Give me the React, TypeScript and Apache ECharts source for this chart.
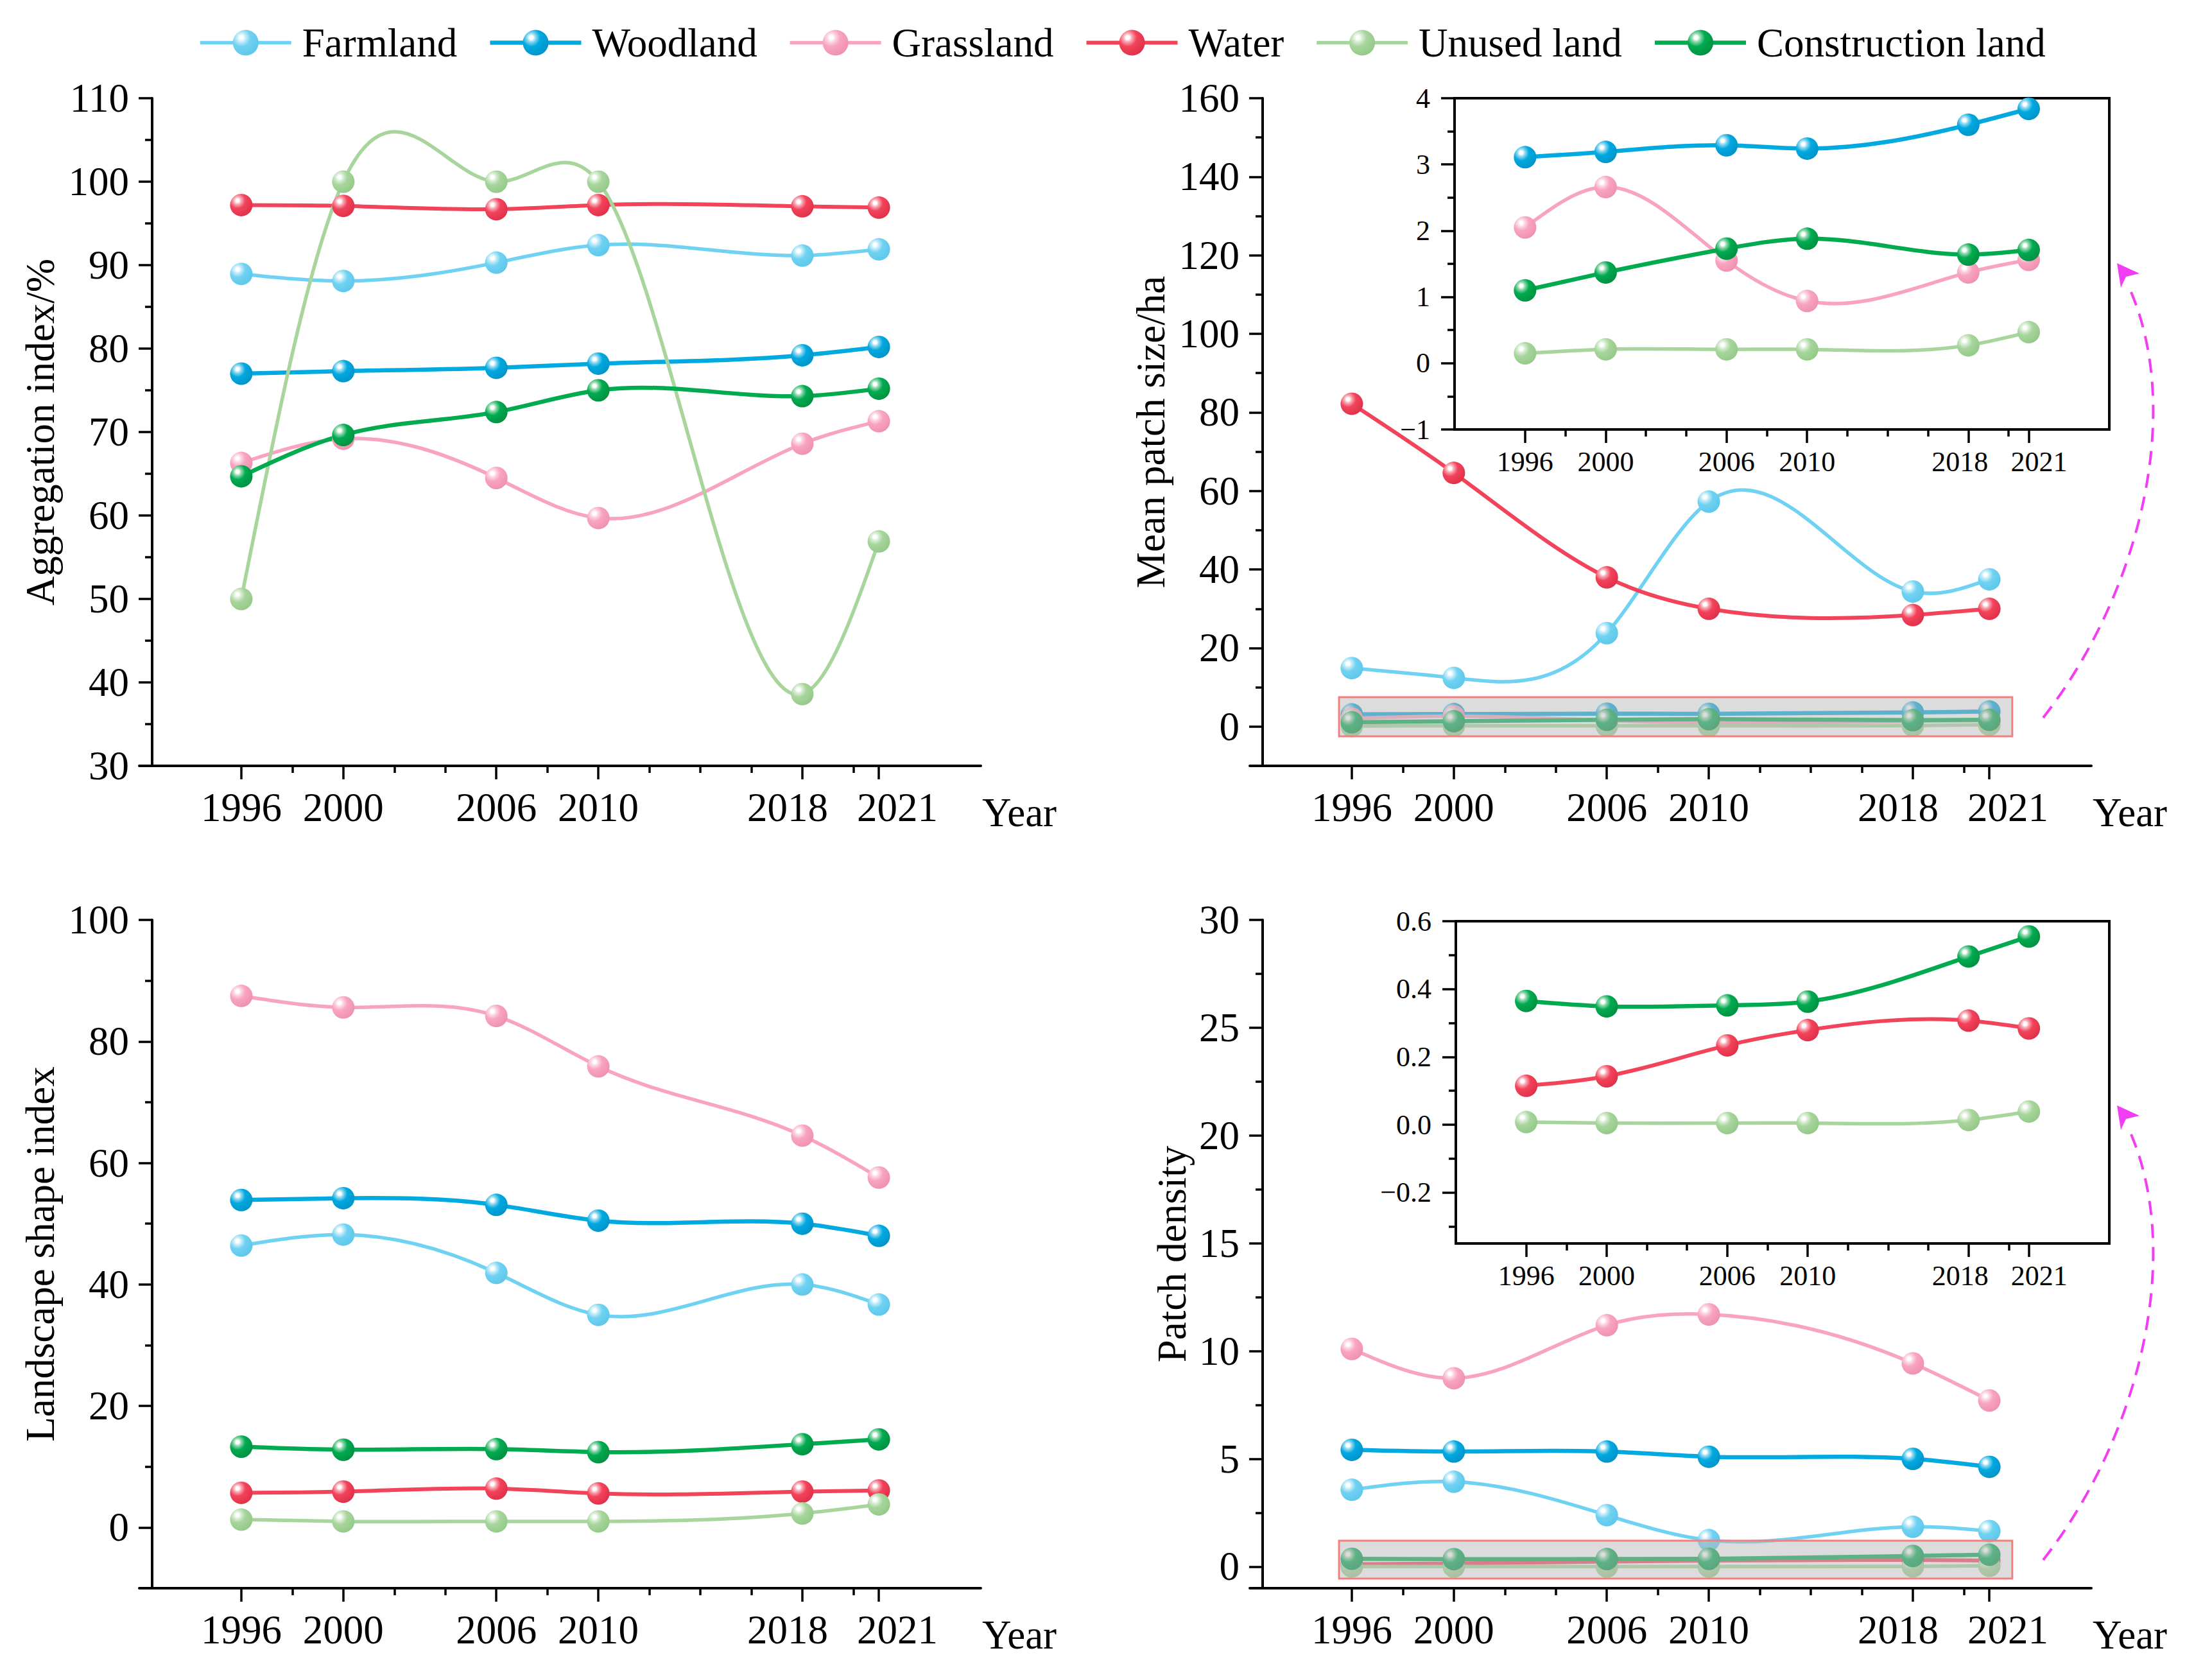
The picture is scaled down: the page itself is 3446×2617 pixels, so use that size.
import React, { useEffect, useRef } from 'react';
import * as echarts from 'echarts';

// ---------- data ----------
const YEARS = [1996, 2000, 2006, 2010, 2018, 2021];
const MINOR_YEARS = [1998, 2002, 2004, 2008, 2012, 2014, 2016, 2020];
const NAMES = ['Farmland', 'Woodland', 'Grassland', 'Water', 'Unused land', 'Construction land'];

// Aggregation index /%
const AI_FARMLAND = [88.95, 88.1, 90.3, 92.4, 91.15, 91.9];
const AI_WOODLAND = [77.0, 77.3, 77.7, 78.2, 79.2, 80.2];
const AI_GRASSLAND = [66.3, 69.2, 64.5, 59.7, 68.6, 71.3];
const AI_WATER = [97.2, 97.1, 96.7, 97.2, 97.05, 96.9];
const AI_UNUSED = [50.0, 100, 100, 100, 38.6, 56.9];
const AI_CONSTRUCTION = [64.7, 69.65, 72.4, 75.0, 74.3, 75.2];

// Mean patch size /ha
const MPS_FARMLAND = [14.9, 12.4, 23.8, 57.3, 34.4, 37.5];
const MPS_WOODLAND = [3.11, 3.19, 3.29, 3.24, 3.6, 3.84];
const MPS_GRASSLAND = [2.05, 2.66, 1.55, 0.94, 1.37, 1.56];
const MPS_WATER = [82.2, 64.6, 38.0, 30.0, 28.4, 30.0];
const MPS_UNUSED = [0.15, 0.21, 0.21, 0.21, 0.27, 0.47];
const MPS_CONSTRUCTION = [1.1, 1.37, 1.73, 1.88, 1.64, 1.71];

// Landscape shape index
const LSI_FARMLAND = [46.4, 48.2, 41.9, 35.0, 40.0, 36.7];
const LSI_WOODLAND = [53.9, 54.2, 53.1, 50.5, 50.0, 48.0];
const LSI_GRASSLAND = [87.5, 85.6, 84.2, 75.9, 64.5, 57.6];
const LSI_WATER = [5.7, 5.9, 6.4, 5.6, 5.9, 6.1];
const LSI_UNUSED = [1.3, 1.0, 1.0, 1.0, 2.3, 3.8];
const LSI_CONSTRUCTION = [13.3, 12.8, 12.9, 12.4, 13.7, 14.5];

// Patch density
const PD_FARMLAND = [3.57, 3.94, 2.39, 1.23, 1.85, 1.65];
const PD_WOODLAND = [5.42, 5.34, 5.34, 5.1, 5.0, 4.63];
const PD_GRASSLAND = [10.1, 8.74, 11.2, 11.7, 9.43, 7.71];
const PD_WATER = [0.115, 0.143, 0.234, 0.279, 0.307, 0.284];
const PD_UNUSED = [0.008, 0.005, 0.005, 0.005, 0.014, 0.039];
const PD_CONSTRUCTION = [0.365, 0.349, 0.352, 0.363, 0.496, 0.555];

// tick values
const P1_Y_MAJOR = [30, 40, 50, 60, 70, 80, 90, 100, 110];
const P1_Y_MINOR = [35, 45, 55, 65, 75, 85, 95, 105];
const P2_Y_MAJOR = [0, 20, 40, 60, 80, 100, 120, 140, 160];
const P2_Y_MINOR = [10, 30, 50, 70, 90, 110, 130, 150];
const P2I_Y_MAJOR = [-1, 0, 1, 2, 3, 4];
const P2I_Y_MINOR = [-0.5, 0.5, 1.5, 2.5, 3.5];
const P3_Y_MAJOR = [0, 20, 40, 60, 80, 100];
const P3_Y_MINOR = [10, 30, 50, 70, 90];
const P4_Y_MAJOR = [0, 5, 10, 15, 20, 25, 30];
const P4_Y_MINOR = [2.5, 7.5, 12.5, 17.5, 22.5, 27.5];
const P4I_Y_MAJOR = [-0.2, 0, 0.2, 0.4, 0.6];
const P4I_Y_MINOR = [-0.3, -0.1, 0.1, 0.3, 0.5];

// ---------- styles ----------
const FONT = "'Liberation Serif', 'Times New Roman', Times, serif";
const COLORS = ['#70d2f2', '#00a9e0', '#f8a4c1', '#f2435b', '#a7d59c', '#00ab50'];
const LIGHT = ['#c4ecf9', '#8fd8f0', '#fcd6e3', '#f9a9b4', '#d8edd3', '#8fd8ad'];
const DARK = ['#5cc6ea', '#0092c7', '#ee8fb0', '#de2f48', '#92c887', '#008e40'];
const LINE_W = [5.5, 6.5, 5.5, 6, 5.5, 6.5];
const MAGENTA = '#f23ef2';

function gradient(i: number) {
  return new echarts.graphic.RadialGradient(0.33, 0.3, 0.78, [
    { offset: 0, color: '#ffffff' },
    { offset: 0.09, color: '#ffffff' },
    { offset: 0.22, color: LIGHT[i] },
    { offset: 0.45, color: COLORS[i] },
    { offset: 1, color: DARK[i] },
  ]);
}

function splinePath(pts: number[][]): string {
  const n = pts.length;
  const xs = pts.map((p) => p[0]);
  const ys = pts.map((p) => p[1]);
  const h: number[] = [];
  for (let i = 0; i < n - 1; i++) h.push(xs[i + 1] - xs[i]);
  const M: number[] = new Array(n).fill(0);
  if (n > 2) {
    const a: number[] = [], b: number[] = [], c: number[] = [], d: number[] = [];
    for (let i = 1; i < n - 1; i++) {
      a.push(h[i - 1]);
      b.push(2 * (h[i - 1] + h[i]));
      c.push(h[i]);
      d.push(6 * ((ys[i + 1] - ys[i]) / h[i] - (ys[i] - ys[i - 1]) / h[i - 1]));
    }
    const m = b.length;
    for (let i = 1; i < m; i++) {
      const w = a[i] / b[i - 1];
      b[i] -= w * c[i - 1];
      d[i] -= w * d[i - 1];
    }
    const sol: number[] = new Array(m);
    sol[m - 1] = d[m - 1] / b[m - 1];
    for (let i = m - 2; i >= 0; i--) sol[i] = (d[i] - c[i] * sol[i + 1]) / b[i];
    for (let i = 0; i < m; i++) M[i + 1] = sol[i];
  }
  let s = `M${xs[0]},${ys[0]}`;
  for (let i = 0; i < n - 1; i++) {
    const hh = h[i];
    const slope = (ys[i + 1] - ys[i]) / hh;
    const d0 = slope - (hh * (2 * M[i] + M[i + 1])) / 6;
    const d1 = slope + (hh * (M[i] + 2 * M[i + 1])) / 6;
    s += ` C${xs[i] + hh / 3},${ys[i] + (d0 * hh) / 3} ${xs[i + 1] - hh / 3},${ys[i + 1] - (d1 * hh) / 3} ${xs[i + 1]},${ys[i + 1]}`;
  }
  return s;
}

interface PanelDef {
  grid: { left: number; top: number; width: number; height: number };
  xMin: number;
  xMax: number;
  yMin: number;
  yMax: number;
  yMajor: number[];
  yMinor: number[];
  decimals: number;
  yName: string;
  yNameGap: number;
  yOffset: number;
  inset: boolean;
  data: (number[] | null)[];
  box?: number[];
}

const PANELS: PanelDef[] = [
  {
    grid: { left: 217, top: 153, width: 1311, height: 1040 },
    xMin: 1992, xMax: 2025, yMin: 30, yMax: 110, yMajor: P1_Y_MAJOR, yMinor: P1_Y_MINOR, decimals: 0,
    yName: 'Aggregation index/%', yNameGap: 143, yOffset: -20, inset: false,
    data: [AI_FARMLAND, AI_WOODLAND, AI_GRASSLAND, AI_WATER, AI_UNUSED, AI_CONSTRUCTION],
  },
  {
    grid: { left: 1947, top: 153, width: 1311, height: 1040 },
    xMin: 1992, xMax: 2025, yMin: -10, yMax: 160, yMajor: P2_Y_MAJOR, yMinor: P2_Y_MINOR, decimals: 0,
    yName: 'Mean patch size/ha', yNameGap: 143, yOffset: -20, inset: false,
    data: [MPS_FARMLAND, MPS_WOODLAND, MPS_GRASSLAND, MPS_WATER, MPS_UNUSED, MPS_CONSTRUCTION],
    box: [1995.5, -2.5, 2021.9, 7.5],
  },
  {
    grid: { left: 2266, top: 153, width: 1020, height: 516 },
    xMin: 1992.5, xMax: 2025, yMin: -1, yMax: 4, yMajor: P2I_Y_MAJOR, yMinor: P2I_Y_MINOR, decimals: 0,
    yName: '', yNameGap: 0, yOffset: 0, inset: true,
    data: [null, MPS_WOODLAND, MPS_GRASSLAND, null, MPS_UNUSED, MPS_CONSTRUCTION],
  },
  {
    grid: { left: 217, top: 1433, width: 1311, height: 1041 },
    xMin: 1992, xMax: 2025, yMin: -10, yMax: 100, yMajor: P3_Y_MAJOR, yMinor: P3_Y_MINOR, decimals: 0,
    yName: 'Landscape shape index', yNameGap: 143, yOffset: -20, inset: false,
    data: [LSI_FARMLAND, LSI_WOODLAND, LSI_GRASSLAND, LSI_WATER, LSI_UNUSED, LSI_CONSTRUCTION],
  },
  {
    grid: { left: 1947, top: 1433, width: 1311, height: 1041 },
    xMin: 1992, xMax: 2025, yMin: -1, yMax: 30, yMajor: P4_Y_MAJOR, yMinor: P4_Y_MINOR, decimals: 0,
    yName: 'Patch density', yNameGap: 110, yOffset: -20, inset: false,
    data: [PD_FARMLAND, PD_WOODLAND, PD_GRASSLAND, PD_WATER, PD_UNUSED, PD_CONSTRUCTION],
    box: [1995.5, -0.55, 2021.9, 1.2],
  },
  {
    grid: { left: 2268, top: 1435, width: 1018, height: 502 },
    xMin: 1992.5, xMax: 2025, yMin: -0.35, yMax: 0.6, yMajor: P4I_Y_MAJOR, yMinor: P4I_Y_MINOR, decimals: 1,
    yName: '', yNameGap: 0, yOffset: 0, inset: true,
    data: [null, null, null, PD_WATER, PD_UNUSED, PD_CONSTRUCTION],
  },
];

function buildOption() {
  const grid: any[] = [];
  const xAxis: any[] = [];
  const yAxis: any[] = [];
  const markerSeries: any[] = [];
  const curveSeries: any[] = [];
  const boxSeries: any[] = [];

  PANELS.forEach((p, gi) => {
    grid.push({
      ...p.grid,
      containLabel: false,
      outerBoundsMode: 'none',
      show: p.inset,
      borderColor: '#000',
      borderWidth: 4,
      backgroundColor: 'transparent',
    });
    const fs = p.inset ? 44 : 63;
    const shL = p.inset ? 13 : 23;
    const shR = p.inset ? 16 : 29;
    const base = { fontSize: fs, fontFamily: FONT, color: '#000' };
    const xi = xAxis.length;
    xAxis.push({
      type: 'value', gridIndex: gi, min: p.xMin, max: p.xMax, position: 'bottom',
      axisLine: { show: true, onZero: false, lineStyle: { color: '#000', width: 4 } },
      axisTick: { show: true, inside: false, customValues: YEARS, length: 21, lineStyle: { color: '#000', width: 3.5 } },
      axisLabel: {
        show: true, customValues: YEARS, margin: p.inset ? 28 : 33, ...base,
        formatter: (v: number) => (v === 2018 ? `{l|${v}}` : v === 2021 ? `{r|${v}}` : `{c|${v}}`),
        rich: {
          l: { ...base, padding: [0, 2 * shL, 0, 0] },
          r: { ...base, padding: [0, 0, 0, 2 * shR] },
          c: { ...base },
        },
      },
      splitLine: { show: false },
      name: p.inset ? '' : 'Year', nameLocation: 'end', nameGap: 2, nameMoveOverlap: false,
      nameTextStyle: { fontSize: 63, fontFamily: FONT, color: '#000', align: 'left', verticalAlign: 'top', padding: [41, 0, 0, 0] },
    });
    xAxis.push({
      type: 'value', gridIndex: gi, min: p.xMin, max: p.xMax, position: 'bottom',
      axisLine: { show: false, onZero: false },
      axisTick: { show: true, inside: false, customValues: MINOR_YEARS, length: 11, lineStyle: { color: '#000', width: 3.5 } },
      axisLabel: { show: false },
      splitLine: { show: false },
    });
    const yi = yAxis.length;
    const fmt = (v: number) => {
      const s = p.decimals ? v.toFixed(p.decimals) : String(v);
      return v < 0 ? '\u2212' + s.replace('-', '') : s;
    };
    yAxis.push({
      type: 'value', gridIndex: gi, min: p.yMin, max: p.yMax, position: 'left', offset: p.yOffset,
      axisLine: { show: true, onZero: false, lineStyle: { color: '#000', width: 4 } },
      axisTick: { show: true, inside: false, customValues: p.yMajor, length: 21, lineStyle: { color: '#000', width: 3.5 } },
      axisLabel: { show: true, customValues: p.yMajor, margin: p.inset ? 38 : 36, ...base, formatter: fmt },
      splitLine: { show: false },
      name: p.yName, nameLocation: 'middle', nameGap: p.yNameGap, nameRotate: 90, nameMoveOverlap: false,
      nameTextStyle: { fontSize: 63, fontFamily: FONT, color: '#000' },
    });
    yAxis.push({
      type: 'value', gridIndex: gi, min: p.yMin, max: p.yMax, position: 'left', offset: p.yOffset,
      axisLine: { show: false, onZero: false },
      axisTick: { show: true, inside: false, customValues: p.yMinor, length: 11, lineStyle: { color: '#000', width: 3.5 } },
      axisLabel: { show: false },
      splitLine: { show: false },
    });

    p.data.forEach((vals, si) => {
      if (!vals) return;
      const v = vals;
      markerSeries.push({
        type: 'line', name: NAMES[si], xAxisIndex: xi, yAxisIndex: yi,
        data: YEARS.map((y, k) => [y, v[k]]),
        symbol: 'circle', symbolSize: 35, showSymbol: true,
        lineStyle: { opacity: 0, width: 0 },
        itemStyle: { color: gradient(si), borderWidth: 0 },
        emphasis: { disabled: true }, silent: true, z: 3 + si * 0.01,
      });
      curveSeries.push({
        type: 'custom', xAxisIndex: xi, yAxisIndex: yi, silent: true, clip: false, z: 2 + si * 0.01,
        data: [[YEARS[0], v[0]]],
        renderItem: (_params: any, api: any) => {
          const pts = YEARS.map((y, k) => api.coord([y, v[k]]));
          return {
            type: 'path',
            shape: { pathData: splinePath(pts) },
            style: { fill: 'none', stroke: COLORS[si], lineWidth: LINE_W[si], lineJoin: 'round', lineCap: 'round' },
          };
        },
      });
    });

    if (p.box) {
      const [bx0, by0, bx1, by1] = p.box;
      boxSeries.push({
        type: 'custom', xAxisIndex: xi, yAxisIndex: yi, silent: true, clip: false, z: 10,
        data: [[bx0, by0]],
        renderItem: (_params: any, api: any) => {
          const a = api.coord([bx0, by1]);
          const b = api.coord([bx1, by0]);
          return {
            type: 'rect',
            shape: { x: a[0], y: a[1], width: b[0] - a[0], height: b[1] - a[1] },
            style: { fill: 'rgba(185,185,185,0.5)', stroke: '#f47f7f', lineWidth: 3 },
          };
        },
      });
    }
  });

  const arrows: any[] = [];
  [0, 1312].forEach((dy) => {
    arrows.push({
      type: 'bezierCurve', z: 100, silent: true,
      shape: { x1: 3183, y1: 1118 + dy, cpx1: 3330, cpy1: 930 + dy, cpx2: 3402, cpy2: 650 + dy, x2: 3320, y2: 455 + dy },
      style: { stroke: MAGENTA, lineWidth: 4, lineDash: [22, 14], fill: null },
    });
    arrows.push({
      type: 'polygon', z: 100, silent: true,
      shape: { points: [[3298, 410 + dy], [3333, 426 + dy], [3312, 431 + dy], [3304, 448 + dy]] },
      style: { fill: MAGENTA },
    });
  });

  return {
    animation: false,
    backgroundColor: '#ffffff',
    textStyle: { fontFamily: FONT, color: '#000' },
    legend: {
      left: 304, top: 30, itemWidth: 142, itemHeight: 50, itemGap: 48, selectedMode: false,
      textStyle: { fontSize: 63, fontFamily: FONT, color: '#000', padding: [0, 0, 0, 12] },
      data: NAMES.map((n, i) => ({
        name: n,
        lineStyle: { color: COLORS[i], width: LINE_W[i], opacity: 1, type: 'solid' },
      })),
    },
    grid,
    xAxis,
    yAxis,
    series: [...markerSeries, ...curveSeries, ...boxSeries],
    graphic: arrows,
  };
}

export default function App() {
  const ref = useRef<HTMLDivElement>(null);
  useEffect(() => {
    if (!ref.current) return;
    const chart = echarts.init(ref.current, undefined, { renderer: 'svg' });
    chart.setOption(buildOption() as any);
    return () => chart.dispose();
  }, []);
  return <div ref={ref} style={{ position: 'absolute', left: 0, top: 0, width: 3446, height: 2617 }} />;
}
